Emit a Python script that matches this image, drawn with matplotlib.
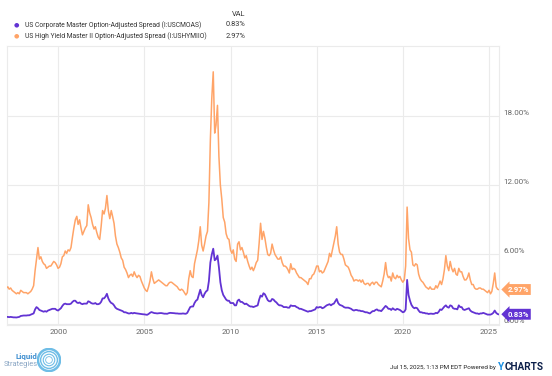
import numpy as np
import pandas as pd
import matplotlib
matplotlib.use('Agg')
import matplotlib.pyplot as plt
import matplotlib.dates as mdates
from matplotlib.patches import Circle

plt.rcParams['font.family'] = ['Roboto', 'DejaVu Sans']

# series names / legend
names = ['US Corporate Master Option-Adjusted Spread (I:USCMOAS)',
         'US High Yield Master II Option-Adjusted Spread (I:USHYMIIO)']
last_vals = ['0.83%', '2.97%']
colors = ['#6233d3', '#ffa468']

# month-end readings, Dec 1996 .. Jun 2025, then Jul 15 2025
dates = ([pd.Timestamp('1996-12-31')]
         + list(pd.date_range('1997-01-31', '2025-06-30', freq='ME'))
         + [pd.Timestamp('2025-07-15')])

hy_oas = [3.1,
    3.2, 3.0, 3.1, 2.9, 2.8, 2.7, 2.6, 2.7, 2.6, 2.9, 2.8, 2.7,   # 1997
    2.7, 2.7, 2.6, 2.7, 2.8, 3.0, 3.3, 4.6, 5.6, 6.6, 5.6, 5.8,   # 1998
    5.4, 5.2, 5.1, 4.8, 4.9, 5.0, 5.0, 5.2, 5.4, 5.3, 5.1, 4.8,   # 1999
    4.9, 5.2, 5.8, 5.9, 6.3, 6.1, 6.4, 6.3, 6.6, 7.5, 8.3, 9.0,   # 2000
    9.3, 8.6, 9.0, 8.3, 7.7, 8.0, 8.3, 8.5, 10.3, 9.6, 9.2, 8.6,  # 2001
    8.2, 8.4, 7.9, 7.5, 7.3, 8.4, 9.8, 9.5, 10.0, 11.1, 9.8, 9.1, # 2002
    9.8, 9.3, 8.7, 7.6, 6.9, 6.6, 6.2, 5.7, 5.5, 4.9, 4.7, 4.4,   # 2003
    4.0, 4.2, 4.3, 4.1, 4.5, 4.2, 4.0, 4.2, 4.1, 3.7, 3.4, 3.1,   # 2004
    2.9, 2.8, 3.2, 3.7, 4.5, 3.9, 3.5, 3.6, 3.7, 3.8, 3.7, 3.6,   # 2005
    3.5, 3.4, 3.3, 3.3, 3.5, 3.6, 3.6, 3.5, 3.4, 3.3, 3.2, 3.0,   # 2006
    2.9, 3.0, 2.9, 2.7, 2.5, 2.7, 3.9, 4.6, 4.1, 4.0, 5.2, 5.8,   # 2007
    6.4, 7.2, 8.4, 6.8, 6.3, 6.9, 7.6, 8.0, 10.5, 15.9, 19.5, 21.8,  # 2008
    16.5, 17.2, 18.9, 14.5, 12.0, 10.8, 9.2, 8.8, 7.8, 7.4, 7.3, 6.4,  # 2009
    6.1, 6.4, 5.6, 5.4, 6.9, 7.1, 6.4, 6.6, 6.2, 5.7, 5.9, 5.4,   # 2010
    5.0, 4.7, 4.9, 4.6, 4.9, 5.3, 5.5, 7.0, 8.7, 7.3, 8.0, 7.4,   # 2011
    6.6, 6.0, 5.9, 6.1, 6.9, 6.4, 6.0, 5.8, 5.6, 5.6, 5.8, 5.3,   # 2012
    5.0, 5.0, 4.9, 4.7, 4.4, 5.2, 4.7, 4.8, 4.7, 4.4, 4.2, 4.0,   # 2013
    4.0, 3.9, 3.8, 3.7, 3.6, 3.4, 3.9, 3.9, 4.2, 4.3, 4.6, 5.0,   # 2014
    5.0, 4.5, 4.6, 4.4, 4.5, 4.8, 5.1, 5.4, 6.1, 5.8, 6.4, 7.0,   # 2015
    7.6, 8.4, 6.9, 6.2, 6.0, 6.0, 5.6, 5.1, 5.0, 4.9, 4.6, 4.2,   # 2016
    4.0, 3.7, 3.8, 3.8, 3.7, 3.8, 3.6, 3.8, 3.5, 3.4, 3.5, 3.5,   # 2017
    3.3, 3.5, 3.6, 3.4, 3.6, 3.6, 3.4, 3.3, 3.2, 3.7, 4.3, 5.3,   # 2018
    4.3, 4.0, 4.1, 3.7, 4.4, 4.0, 3.9, 4.2, 4.0, 4.1, 3.8, 3.6,   # 2019
    3.8, 5.0, 10.1, 7.4, 6.4, 6.2, 5.1, 5.0, 5.2, 5.1, 4.3, 3.9,  # 2020
    3.7, 3.6, 3.4, 3.2, 3.1, 3.0, 3.2, 3.0, 3.0, 3.0, 3.3, 3.1,   # 2021
    3.4, 3.7, 3.4, 3.9, 4.7, 5.9, 5.0, 4.6, 5.4, 4.8, 4.5, 4.8,   # 2022
    4.3, 4.2, 4.8, 4.5, 4.5, 4.1, 3.8, 3.8, 4.0, 4.4, 3.8, 3.4,   # 2023
    3.4, 3.1, 3.0, 3.0, 3.1, 3.1, 3.0, 3.0, 2.9, 2.8, 2.7, 2.9,   # 2024
    2.6, 2.8, 3.5, 4.4, 3.2, 3.0, 2.97]                           # 2025

ig_oas = [0.60,
    0.60, 0.58, 0.60, 0.58, 0.56, 0.56, 0.55, 0.58, 0.60, 0.68, 0.70, 0.72,  # 1997
    0.72, 0.72, 0.74, 0.74, 0.80, 0.85, 0.90, 1.25, 1.45, 1.35, 1.20, 1.15,  # 1998
    1.10, 1.05, 1.10, 1.05, 1.15, 1.20, 1.25, 1.30, 1.30, 1.30, 1.20, 1.15,  # 1999
    1.25, 1.35, 1.55, 1.70, 1.75, 1.70, 1.70, 1.70, 1.75, 1.90, 2.00, 2.00,  # 2000
    1.85, 1.80, 1.85, 1.75, 1.70, 1.75, 1.75, 1.75, 1.95, 1.90, 1.80, 1.75,  # 2001
    1.75, 1.80, 1.70, 1.70, 1.75, 1.90, 2.20, 2.20, 2.35, 2.60, 2.20, 1.95,  # 2002
    1.80, 1.75, 1.60, 1.40, 1.30, 1.25, 1.20, 1.15, 1.10, 1.00, 1.00, 0.95,  # 2003
    0.90, 0.90, 0.95, 0.90, 0.95, 0.92, 0.90, 0.88, 0.86, 0.85, 0.83, 0.82,  # 2004
    0.80, 0.78, 0.85, 0.95, 1.02, 0.98, 0.93, 0.92, 0.90, 0.92, 0.93, 0.93,  # 2005
    0.90, 0.88, 0.88, 0.87, 0.92, 0.95, 0.94, 0.93, 0.92, 0.90, 0.90, 0.88,  # 2006
    0.88, 0.88, 0.90, 0.88, 0.87, 0.95, 1.20, 1.45, 1.50, 1.50, 1.80, 2.00,  # 2007
    2.10, 2.50, 2.95, 2.50, 2.30, 2.60, 2.80, 2.90, 3.70, 5.30, 6.00, 6.50,  # 2008
    5.50, 5.60, 5.90, 4.90, 3.60, 2.90, 2.50, 2.30, 2.10, 2.00, 2.00, 1.80,  # 2009
    1.80, 1.80, 1.60, 1.60, 2.00, 2.10, 1.90, 1.90, 1.80, 1.70, 1.75, 1.65,  # 2010
    1.55, 1.50, 1.50, 1.45, 1.50, 1.55, 1.60, 2.10, 2.45, 2.35, 2.65, 2.55,  # 2011
    2.30, 2.05, 1.95, 1.95, 2.15, 2.10, 1.95, 1.85, 1.70, 1.60, 1.60, 1.55,  # 2012
    1.45, 1.45, 1.45, 1.40, 1.40, 1.60, 1.55, 1.55, 1.55, 1.45, 1.40, 1.30,  # 2013
    1.30, 1.25, 1.20, 1.15, 1.10, 1.05, 1.10, 1.10, 1.15, 1.20, 1.25, 1.45,  # 2014
    1.40, 1.45, 1.45, 1.35, 1.40, 1.50, 1.60, 1.65, 1.70, 1.60, 1.70, 1.75,  # 2015
    1.95, 2.15, 1.80, 1.65, 1.60, 1.55, 1.45, 1.40, 1.40, 1.40, 1.35, 1.30,  # 2016
    1.20, 1.15, 1.20, 1.20, 1.15, 1.15, 1.10, 1.10, 1.05, 1.00, 1.00, 0.95,  # 2017
    0.90, 1.00, 1.10, 1.10, 1.20, 1.25, 1.15, 1.15, 1.10, 1.25, 1.40, 1.55,  # 2018
    1.45, 1.30, 1.30, 1.20, 1.35, 1.25, 1.20, 1.30, 1.25, 1.20, 1.10, 1.00,  # 2019
    1.05, 1.25, 3.80, 2.50, 2.00, 1.65, 1.45, 1.35, 1.40, 1.35, 1.15, 1.00,  # 2020
    1.00, 0.95, 0.95, 0.90, 0.90, 0.85, 0.88, 0.88, 0.86, 0.88, 0.95, 0.92,  # 2021
    1.05, 1.25, 1.20, 1.35, 1.50, 1.60, 1.45, 1.40, 1.60, 1.55, 1.35, 1.30,  # 2022
    1.30, 1.25, 1.60, 1.45, 1.45, 1.25, 1.20, 1.25, 1.30, 1.35, 1.15, 1.05,  # 2023
    1.00, 0.95, 0.90, 0.90, 0.85, 0.90, 0.90, 0.95, 0.90, 0.85, 0.80, 0.80,  # 2024
    0.80, 0.85, 0.95, 1.15, 0.95, 0.85, 0.83]                                # 2025

y_ticks = [0, 6, 12, 18]
x_years = [2000, 2005, 2010, 2015, 2020, 2025]

grid_c = '#ebebeb'
text_c = '#666666'

fig = plt.figure(figsize=(5.52, 3.76), dpi=100)
ax = fig.add_axes([7 / 552, 1 - 325 / 376, 492 / 552, 278.6 / 376])

ax.plot(dates, hy_oas, color=colors[1], lw=1.1, zorder=3)
ax.plot(dates, ig_oas, color=colors[0], lw=1.3, zorder=4)

ax.set_xlim(pd.Timestamp('1997-01-13'), pd.Timestamp('2025-07-30'))
ax.set_ylim(-0.1, 24)

ax.set_xticks([pd.Timestamp(f'{y}-01-01') for y in x_years])
ax.xaxis.set_major_formatter(mdates.DateFormatter('%Y'))
ax.set_yticks(y_ticks)
ax.yaxis.tick_right()
ax.set_yticklabels([f'{v:.2f}%' for v in y_ticks])
ax.tick_params(axis='both', length=0, labelsize=5.8, colors=text_c)
ax.tick_params(axis='y', pad=3)
for lab in ax.get_yticklabels():
    lab.set_verticalalignment('bottom')
ax.tick_params(axis='x', pad=3)

ax.grid(True, color=grid_c, lw=0.8)
ax.set_axisbelow(True)
for s in ax.spines.values():
    s.set_color(grid_c)
    s.set_linewidth(0.8)

# end-value tags
tag_vals = [ig_oas[-1], hy_oas[-1]]
for val, lab, c in zip(tag_vals, last_vals, colors):
    ax.annotate(lab, xy=(1.0, val), xycoords=('axes fraction', 'data'),
                xytext=(6, 0), textcoords='offset points',
                ha='left', va='center', fontsize=5.6, color='white',
                fontweight='bold', zorder=6, annotation_clip=False,
                bbox=dict(boxstyle='larrow,pad=0.25', fc=c, ec=c, lw=0))

# legend block
renderer = fig.canvas.get_renderer()
fig.text(245 / 552, 1 - 14 / 376, 'VAL', ha='right', va='center',
         fontsize=5.3, color='#333333')
name_widths = [178, 185]   # pixel widths of the legend labels
for i, (nm, v, c) in enumerate(zip(names, last_vals, colors)):
    yy = 1 - (25 + 11 * i) / 376
    fig.text(16 / 552, yy, '\u25cf', ha='center', va='center',
             fontsize=4.5, color=c)
    t = fig.text(25 / 552, yy, nm, ha='left', va='center', fontsize=6,
                 color='#333333')
    w = t.get_window_extent(renderer).width
    t.set_fontsize(6 * name_widths[i] / w)
    fig.text(245 / 552, yy, v, ha='right', va='center', fontsize=5.3,
             color='#333333')

# footer
fy = 1 - 367 / 376
fig.text(496 / 552, fy, 'Jul 15, 2025, 1:13 PM EDT Powered by',
         ha='right', va='center', fontsize=4.5, color='#222222')
ty = fig.text(498 / 552, fy, 'Y', ha='left', va='center',
              fontsize=7.2, fontweight='bold', color='#1a8fe3')
y_end = ty.get_window_extent(renderer).x1
fig.text((y_end + 0.5) / 552, fy, 'CHARTS', ha='left', va='center',
         fontsize=7.2, fontweight='bold', color='#0c1f4a')

# Liquid Strategies logo
fig.text(37 / 552, 1 - 356 / 376, 'Liquid', ha='right', va='center',
         fontsize=5.8, fontweight='bold', color='#3f8fd0')
fig.text(38 / 552, 1 - 365 / 376, 'Strategies', ha='right', va='center',
         fontsize=5.4, color='#8aa6c4')
lax = fig.add_axes([37 / 552, 1 - 372 / 376, 24 / 552, 24 / 376])
lax.set_xlim(-1, 1)
lax.set_ylim(-1, 1)
lax.set_aspect('equal')
lax.axis('off')
for r, w in [(0.92, 1.8), (0.7, 1.0), (0.48, 0.8), (0.28, 0.6)]:
    lax.add_patch(Circle((0, 0), r, fill=False, ec='#6fbde6', lw=w))

fig.savefig('out.png', dpi=100)
